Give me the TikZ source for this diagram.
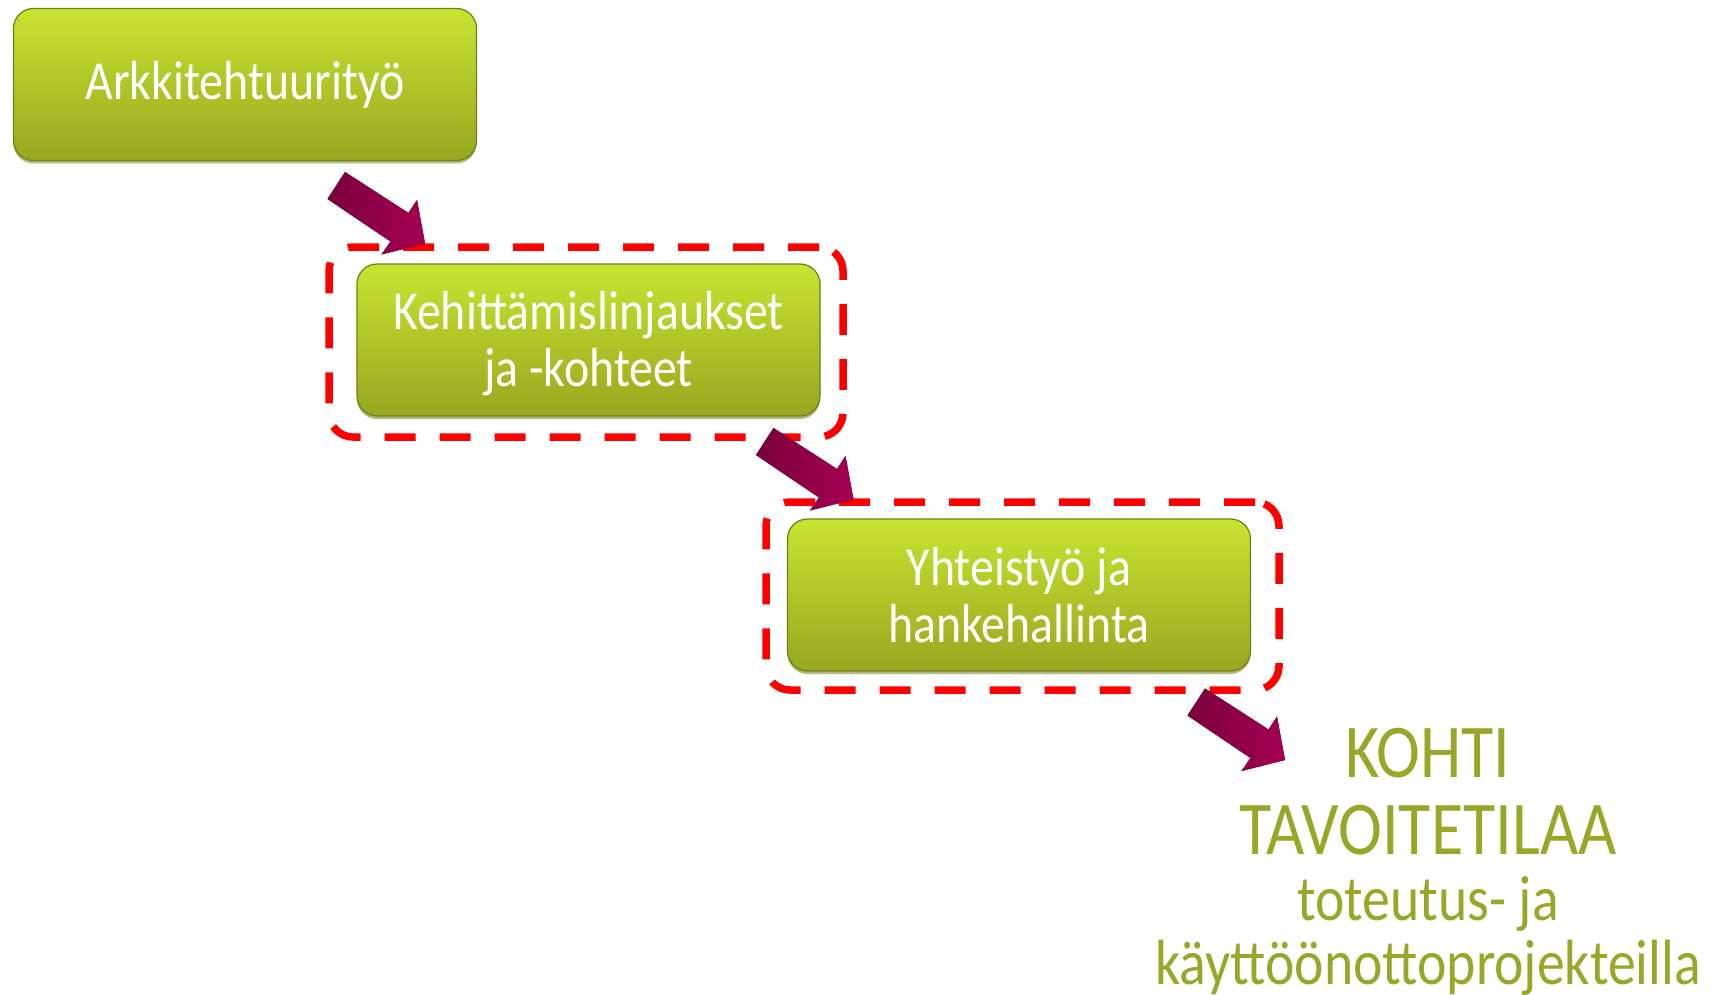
\documentclass[tikz,border=0pt]{standalone}
\usepackage{fontspec}
\setmainfont[FakeStretch=0.87]{Carlito}
\usetikzlibrary{shadows}
\definecolor{gtop}{RGB}{200,228,48}
\definecolor{gmid}{RGB}{182,210,38}
\definecolor{gbot}{RGB}{150,168,32}
\definecolor{gedge}{RGB}{112,126,26}
\definecolor{olivetext}{RGB}{152,167,40}
\definecolor{arrowdark}{RGB}{122,0,60}
\definecolor{arrowlight}{RGB}{165,0,82}
\definecolor{dashred}{RGB}{255,0,0}
\begin{document}
\begin{tikzpicture}[x=1pt,y=-1pt]
\tikzset{
  greenbox/.style={rectangle, rounded corners=20pt, top color=gtop, middle color=gmid, bottom color=gbot,
    draw=gedge, line width=1.2pt, minimum width=463pt, minimum height=152pt,
    text=white, align=center, font=\fontsize{55}{57}\selectfont,
    drop shadow={shadow xshift=0pt, shadow yshift=-3pt, fill=gedge, opacity=0.55}},
  dashbox/.style={rectangle, rounded corners=24pt, draw=dashred, line width=7.5pt,
    dash pattern=on 31pt off 24pt, inner sep=0pt},
  goaltext/.style={text=olivetext, anchor=base, inner sep=0pt},
  barrow/.pic={
    \fill[left color=arrowdark, right color=arrowlight]
      (0,0) -- (-8,-43.5) -- (-16.5,-30.5) -- (-80,-71.5) -- (-97.5,-44.5)
      -- (-34.5,-2) -- (-43.5,11) -- cycle;
  }
}
\useasboundingbox (0,0) rectangle (1710,995);

% dashed frames
\node[dashbox, minimum width=514pt, minimum height=190pt] (d2) at (586,342) {};
\node[dashbox, minimum width=513pt, minimum height=188pt] (d3) at (1022.5,596) {};

% boxes
\node[greenbox] (b1) at (245,84.5) {Arkkitehtuurityö};
\node[greenbox] (b2) at (588.5,340) {\rule{0pt}{46pt}Kehittämislinjaukset\\ja -kohteet};
\node[greenbox] (b3) at (1019,595) {Yhteistyö ja\\hankehallinta};

% block arrows
\coordinate (t1) at (425,243.5);
\coordinate (t2) at (853.5,499.5);
\coordinate (t3) at (1285,760);
\pic at (t1) {barrow};
\pic at (t2) {barrow};
\pic at (t3) {barrow};

% goal text
\node[goaltext, font=\fontsize{76}{76}\selectfont] (g1) at (1428,777) {KOHTI};
\node[goaltext, font=\fontsize{76}{76}\selectfont] (g2) at (1428,854) {TAVOITETILAA};
\node[goaltext, font=\fontsize{64}{64}\selectfont] (g3) at (1428,920) {toteutus- ja};
\node[goaltext, font=\fontsize{64}{64}\selectfont] (g4) at (1428,984) {käyttöönottoprojekteilla};
\end{tikzpicture}
\end{document}
